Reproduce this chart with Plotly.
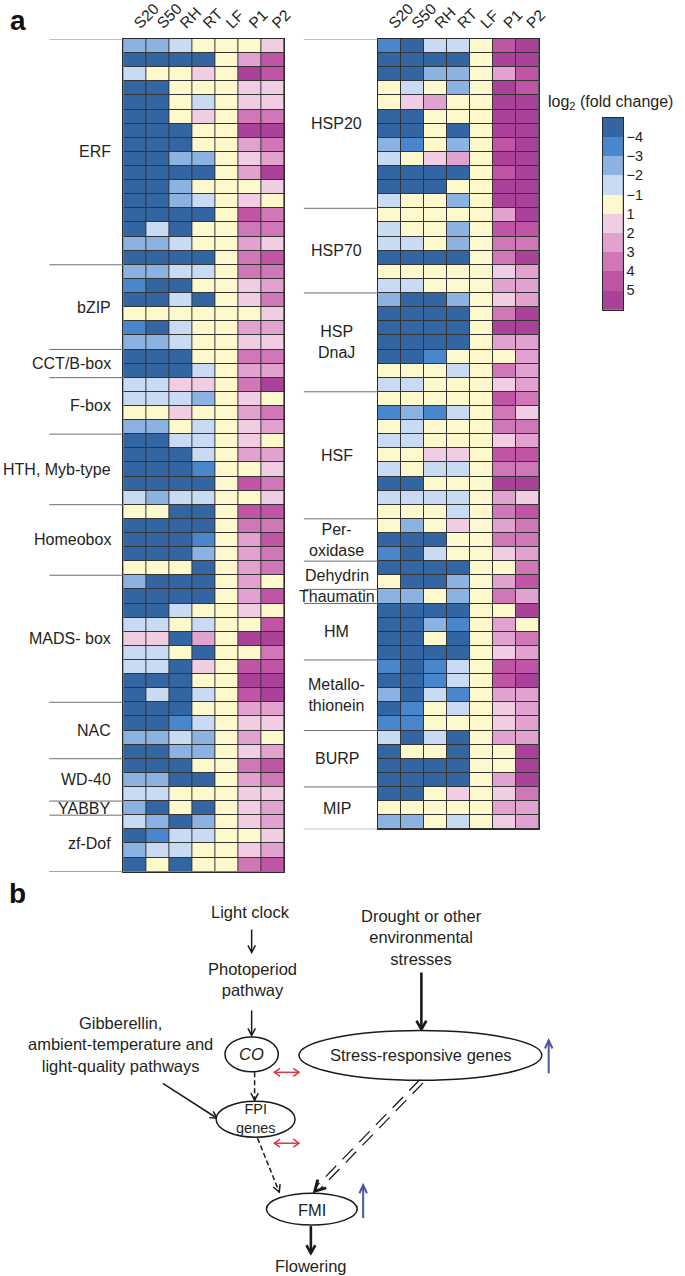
import math
import numpy as np
import plotly.graph_objects as go

W, H = 685, 1276

# ---------------- data ----------------
columns = ["S20", "S50", "RH", "RT", "LF", "P1", "P2"]

tf_groups = ["ERF", "bZIP", "CCT/B-box", "F-box", "HTH, Myb-type", "Homeobox",
             "MADS- box", "NAC", "WD-40", "YABBY", "zf-Dof"]
tf_group_sizes = [16, 6, 2, 4, 5, 5, 9, 4, 3, 1, 4]
tf_log2fc = [
    [-2.5, -2.5, -1.5, 0, 0, 0, 1.5],
    [-4.5, -4.5, -4.5, -4.5, 0, 2.5, 4.5],
    [-1.5, 0, 0, 1.5, 0, 5.5, 4.5],
    [-4.5, -4.5, 0, 0, 0, 1.5, 1.5],
    [-4.5, -4.5, 0, -1.5, 0, 1.5, 1.5],
    [-4.5, -4.5, 0, 1.5, 0, 3.5, 3.5],
    [-4.5, -4.5, -4.5, 0, 0, 5.5, 5.5],
    [-4.5, -4.5, -4.5, 0, 0, 2.5, 3.5],
    [-4.5, -4.5, -2.5, -2.5, 0, 1.5, 2.5],
    [-4.5, -4.5, -4.5, -4.5, 0, 2.5, 5.5],
    [-4.5, -4.5, -2.5, 0, 0, 0, 1.5],
    [-4.5, -4.5, -2.5, -1.5, 0, 1.5, 0],
    [-4.5, -4.5, -4.5, -4.5, 0, 4.5, 3.5],
    [-4.5, -1.5, -4.5, 0, 0, 3.5, 3.5],
    [-2.5, -2.5, -1.5, 0, 0, 2.5, 1.5],
    [-4.5, -4.5, -4.5, -4.5, 0, 3.5, 4.5],
    # bZIP
    [-2.5, -2.5, -1.5, -1.5, 0, 3.5, 3.5],
    [-3.5, -4.5, -4.5, 0, 0, 1.5, 2.5],
    [-4.5, -4.5, -1.5, -4.5, 0, 1.5, 3.5],
    [0, 0, 0, 0, 0, 0, 1.5],
    [-3.5, -4.5, -1.5, 0, 0, 2.5, 2.5],
    [-2.5, -2.5, -1.5, 0, 0, 1.5, 1.5],
    # CCT/B-box
    [-4.5, -4.5, -4.5, 0, 0, 3.5, 3.5],
    [-4.5, -4.5, -4.5, -1.5, 0, 2.5, 2.5],
    # F-box
    [-1.5, -1.5, 1.5, 1.5, 0, 3.5, 5.5],
    [-1.5, -1.5, -1.5, -2.5, 0, 1.5, 0],
    [0, 0, 1.5, 0, 0, 2.5, 3.5],
    [-2.5, -2.5, 0, -1.5, 0, 1.5, 2.5],
    # HTH, Myb-type
    [-4.5, -4.5, -1.5, -1.5, 0, 1.5, 0],
    [-4.5, -4.5, -4.5, -1.5, 0, 2.5, 2.5],
    [-4.5, -4.5, -4.5, -3.5, 0, 0, 1.5],
    [-4.5, -4.5, -4.5, -4.5, 0, 4.5, 3.5],
    [-1.5, -2.5, -1.5, -1.5, 0, 0, 1.5],
    # Homeobox
    [0, 0, -4.5, -4.5, 0, 4.5, 4.5],
    [-4.5, -4.5, -4.5, -4.5, 0, 3.5, 3.5],
    [-4.5, -4.5, -4.5, -3.5, 0, 2.5, 4.5],
    [-4.5, -4.5, -4.5, -2.5, 0, 2.5, 3.5],
    [0, 0, 0, -4.5, 0, 2.5, 3.5],
    # MADS- box
    [-2.5, -4.5, -4.5, -4.5, 0, 2.5, 0],
    [-4.5, -4.5, -4.5, -4.5, 0, 2.5, 4.5],
    [-4.5, -4.5, -1.5, 0, 0, 1.5, 0],
    [-1.5, -1.5, 0, -1.5, 0, 0, 4.5],
    [1.5, 1.5, -4.5, 2.5, 0, 5.5, 5.5],
    [-1.5, -1.5, 0, -4.5, 0, 0, 3.5],
    [-1.5, -1.5, -4.5, 1.5, 0, 4.5, 4.5],
    [-4.5, -4.5, -4.5, 0, 0, 5.5, 5.5],
    [-4.5, -1.5, -4.5, -1.5, 0, 4.5, 5.5],
    # NAC
    [-4.5, -4.5, -4.5, 0, 0, 2.5, 2.5],
    [-4.5, -4.5, -3.5, -1.5, 0, 1.5, 1.5],
    [-2.5, -2.5, -1.5, -2.5, 0, 2.5, 0],
    [-4.5, -4.5, -2.5, -2.5, 0, 1.5, 2.5],
    # WD-40
    [-4.5, -4.5, -4.5, 0, 0, 3.5, 4.5],
    [-2.5, -2.5, -4.5, -4.5, 0, 2.5, 3.5],
    [-1.5, -1.5, 0, 0, 0, 1.5, 1.5],
    # YABBY
    [-2.5, -4.5, 0, -4.5, 0, 1.5, 2.5],
    # zf-Dof
    [-1.5, -2.5, -4.5, -2.5, 0, 1.5, 2.5],
    [-4.5, -3.5, -1.5, -1.5, 0, 0, 1.5],
    [-2.5, -1.5, -1.5, 0, 0, 1.5, 2.5],
    [-4.5, 0, -4.5, 0, 0, 3.5, 4.5],
]

stress_groups = ["HSP20", "HSP70", "HSP<br>DnaJ", "HSF", "Per-<br>oxidase", "Dehydrin",
                 "Thaumatin", "HM", "Metallo-<br>thionein", "BURP", "MIP"]
stress_group_sizes = [12, 6, 7, 9, 3, 2, 1, 4, 5, 4, 3]
stress_log2fc = [
    # HSP20
    [-3.5, -4.5, -1.5, -1.5, 0, 4.5, 5.5],
    [-4.5, -4.5, -4.5, -4.5, 0, 5.5, 5.5],
    [-4.5, -4.5, -2.5, -2.5, 0, 2.5, 4.5],
    [0, -1.5, 0, -2.5, 0, 5.5, 4.5],
    [0, 1.5, 2.5, 0, 0, 5.5, 5.5],
    [-4.5, -4.5, 0, 0, 0, 5.5, 5.5],
    [-4.5, -4.5, 0, -4.5, 0, 5.5, 5.5],
    [-2.5, -3.5, 0, -2.5, 0, 4.5, 5.5],
    [-1.5, 0, 1.5, 2.5, 0, 5.5, 5.5],
    [-4.5, -4.5, -4.5, -4.5, 0, 4.5, 5.5],
    [-4.5, -4.5, -4.5, 0, 0, 5.5, 5.5],
    [-1.5, 0, 0, -2.5, 0, 5.5, 5.5],
    # HSP70
    [0, 0, 0, 0, 0, 2.5, 5.5],
    [-1.5, 0, 0, -2.5, 0, 4.5, 4.5],
    [-1.5, -1.5, 0, -2.5, 0, 3.5, 3.5],
    [-4.5, -4.5, -4.5, -4.5, 0, 3.5, 5.5],
    [0, 0, 0, 0, 0, 1.5, 2.5],
    [-1.5, -1.5, 0, 0, 0, 2.5, 2.5],
    # HSP DnaJ
    [-2.5, -4.5, -4.5, -2.5, 0, 1.5, 2.5],
    [-4.5, -4.5, -4.5, -4.5, 0, 3.5, 5.5],
    [-4.5, -4.5, -4.5, -4.5, 0, 5.5, 5.5],
    [-4.5, -4.5, -4.5, -4.5, 0, 2.5, 2.5],
    [-4.5, -4.5, -3.5, 0, 0, 0, 2.5],
    [0, 0, 0, -1.5, 0, 3.5, 2.5],
    [-1.5, -1.5, 0, 0, 0, 1.5, 2.5],
    # HSF
    [0, 0, 0, 0, 0, 4.5, 3.5],
    [-3.5, -2.5, -3.5, -1.5, 0, 3.5, 1.5],
    [0, -1.5, 0, 0, 0, 3.5, 3.5],
    [-1.5, -1.5, 0, 0, 0, 1.5, 2.5],
    [0, 0, 1.5, 1.5, 0, 4.5, 4.5],
    [-1.5, 0, -1.5, -1.5, 0, 3.5, 3.5],
    [-4.5, -4.5, 0, 0, 0, 5.5, 5.5],
    [-1.5, -1.5, -1.5, -1.5, 0, 2.5, 1.5],
    [0, 0, 0, -1.5, 0, 3.5, 4.5],
    # Peroxidase
    [0, -2.5, 0, 1.5, 0, 2.5, 3.5],
    [-4.5, -4.5, -4.5, 0, 0, 3.5, 3.5],
    [-3.5, -4.5, -1.5, 0, 0, 1.5, 2.5],
    # Dehydrin
    [-4.5, -4.5, -4.5, -4.5, 0, 0, 3.5],
    [0, -4.5, -4.5, -2.5, 0, 2.5, 4.5],
    # Thaumatin
    [-2.5, -2.5, 0, -2.5, 0, 3.5, 2.5],
    # HM
    [-4.5, -4.5, -4.5, -4.5, 0, 0, 5.5],
    [-4.5, -4.5, -2.5, -3.5, 0, 2.5, 0],
    [-4.5, -4.5, 0, -4.5, 0, 2.5, 3.5],
    [-4.5, -4.5, -4.5, -4.5, 0, 1.5, 2.5],
    # Metallothionein
    [-3.5, -4.5, -3.5, -1.5, 0, 4.5, 4.5],
    [-4.5, -4.5, -3.5, -1.5, 0, 4.5, 5.5],
    [-2.5, -4.5, -1.5, -3.5, 0, 2.5, 2.5],
    [-4.5, -3.5, 0, -1.5, 0, 1.5, 2.5],
    [-3.5, -3.5, 0, 0, 0, 1.5, 2.5],
    # BURP
    [-1.5, -4.5, -1.5, -4.5, 0, 2.5, 2.5],
    [-4.5, 0, 0, -4.5, 0, 0, 5.5],
    [-4.5, -4.5, -4.5, -4.5, 0, 0, 5.5],
    [-4.5, -4.5, -4.5, -4.5, 0, 2.5, 5.5],
    # MIP
    [-4.5, -4.5, 0, 1.5, 0, 1.5, 3.5],
    [0, 0, 0, 0, 0, 2.5, 2.5],
    [-2.5, -2.5, 0, -1.5, 0, 1.5, 2.5],
]

legend_values = [-4.5, -3.5, -2.5, -1.5, 0, 1.5, 2.5, 3.5, 4.5, 5.5]
legend_ticktext = ["\u22124", "\u22123", "\u22122", "\u22121", "1", "2", "3", "4", "5"]
bin_edges = [-4, -3, -2, -1, 1, 2, 3, 4, 5]

# ---------------- style ----------------
palette = ["#3365a3", "#4a86cc", "#8cb2e1", "#c8dbf2", "#fdf9cd",
           "#f1cde4", "#e1a2cf", "#d077b7", "#c055a6", "#a94298"]
FONT = "Liberation Sans, Arial, Helvetica, sans-serif"
TXT = "#231f20"

colorscale = []
for i, c in enumerate(palette):
    colorscale.append([i / len(palette), c])
    colorscale.append([(i + 1) / len(palette), c])


def to_bins(vals):
    return np.digitize(np.asarray(vals, dtype=float), bin_edges)


def px(x):
    return x / W


def py(y):
    return 1 - y / H


TOP = 37
ROW_H = (871 - 37) / len(tf_log2fc)

fig = go.Figure()

common = dict(zmin=-0.5, zmax=len(palette) - 0.5, colorscale=colorscale,
              showscale=False, hoverinfo="skip")

fig.add_trace(go.Heatmap(z=to_bins(tf_log2fc), x=columns, y=list(range(len(tf_log2fc))),
                         xgap=1, ygap=1, xaxis="x", yaxis="y", **common))
fig.add_trace(go.Heatmap(z=to_bins(stress_log2fc), x=columns, y=list(range(len(stress_log2fc))),
                         xgap=1, ygap=1, xaxis="x2", yaxis="y2", **common))
fig.add_trace(go.Heatmap(z=to_bins([[v] for v in legend_values]), x=[0],
                         y=list(range(len(legend_values))),
                         xaxis="x3", yaxis="y3", **common))

n1, n2 = len(tf_log2fc), len(stress_log2fc)
bot1 = TOP + n1 * ROW_H
bot2 = TOP + n2 * ROW_H

xcommon = dict(side="top", tickangle=-45, showgrid=False, zeroline=False, showline=True,
               mirror=True, linecolor="#2a2a2a", linewidth=1, ticks="",
               tickfont=dict(size=15.5, color=TXT, family=FONT))
ycommon = dict(showgrid=False, zeroline=False, showline=True, mirror=True,
               linecolor="#2a2a2a", linewidth=1, showticklabels=False, ticks="")

fig.update_layout(
    width=W, height=H,
    margin=dict(l=0, r=0, t=0, b=0),
    paper_bgcolor="white", plot_bgcolor="#333333",
    font=dict(family=FONT, color=TXT),
    showlegend=False,
    xaxis=dict(domain=[px(125), px(288)], anchor="y", **xcommon),
    yaxis=dict(domain=[py(bot1), py(TOP)], anchor="x", range=[n1 - 0.5, -0.5], **ycommon),
    xaxis2=dict(domain=[px(383), px(546)], anchor="y2", **xcommon),
    yaxis2=dict(domain=[py(bot2), py(TOP)], anchor="x2", range=[n2 - 0.5, -0.5], **ycommon),
    xaxis3=dict(domain=[px(611), px(631)], anchor="y3", showgrid=False, zeroline=False,
                showline=True, mirror=True, linecolor="#2a2a2a", showticklabels=False,
                ticks=""),
    yaxis3=dict(domain=[py(308), py(116)], anchor="x3", range=[len(legend_values) - 0.5, -0.5],
                side="right", showgrid=False, zeroline=False, showline=True, mirror=True,
                linecolor="#2a2a2a", ticks="",
                tickvals=[i + 0.5 for i in range(len(legend_ticktext))],
                ticktext=legend_ticktext,
                tickfont=dict(size=14.5, color=TXT, family=FONT)),
)

shapes = []
annotations = []


# group separators and labels
def add_groups(names, sizes, yref, x0, x1, label_x, anchor):
    cum = np.concatenate([[0], np.cumsum(sizes)])
    for c in cum:
        shapes.append(dict(type="line", xref="paper", yref=yref, x0=px(x0), x1=px(x1),
                           y0=c - 0.5, y1=c - 0.5, line=dict(color="#6f6f6f", width=1)))
    for name, s, c in zip(names, sizes, cum[:-1]):
        annotations.append(dict(xref="paper", yref=yref, x=px(label_x), y=c + s / 2 - 0.5,
                                xanchor=anchor, yanchor="middle", text=name, showarrow=False,
                                font=dict(size=16, color=TXT, family=FONT)))


add_groups(tf_groups, tf_group_sizes, "y", 50, 125, 115, "right")
add_groups(stress_groups, stress_group_sizes, "y2", 308, 383, 341, "center")

# colour legend title
annotations.append(dict(xref="paper", yref="paper", x=px(684), y=py(101), xanchor="right",
                        yanchor="middle", text="log<sub>2</sub> (fold change)", showarrow=False,
                        font=dict(size=16, color=TXT, family=FONT)))

# panel letters
for letter, (lx, ly) in {"a": (18, 19), "b": (18, 893)}.items():
    annotations.append(dict(xref="paper", yref="paper", x=px(lx), y=py(ly), xanchor="center",
                            yanchor="middle", text=f"<b>{letter}</b>", showarrow=False,
                            font=dict(size=28, color="#111", family=FONT)))

# ---------------- panel b diagram ----------------
BLACK = "#1a1a1a"
RED = "#d8383f"
BLUE = "#4a55a6"


def seg(x0, y0, x1, y1, color=BLACK, width=1.5, dash=None):
    ln = dict(color=color, width=width)
    if dash:
        ln["dash"] = dash
    shapes.append(dict(type="line", xref="paper", yref="paper", x0=px(x0), y0=py(y0),
                       x1=px(x1), y1=py(y1), line=ln))


def vhead(xa, ya, xb, yb, color=BLACK, width=1.5, L=8, ang=28):
    d = math.hypot(xa - xb, ya - yb)
    ux, uy = (xa - xb) / d, (ya - yb) / d
    pts = []
    for s in (1, -1):
        a = math.radians(ang) * s
        rx = ux * math.cos(a) - uy * math.sin(a)
        ry = ux * math.sin(a) + uy * math.cos(a)
        pts.append((xb + L * rx, yb + L * ry))
    path = (f"M {px(pts[0][0])},{py(pts[0][1])} L {px(xb)},{py(yb)} "
            f"L {px(pts[1][0])},{py(pts[1][1])}")
    shapes.append(dict(type="path", xref="paper", yref="paper", path=path,
                       line=dict(color=color, width=width), fillcolor="rgba(0,0,0,0)"))


def arrow(x0, y0, x1, y1, color=BLACK, width=1.5, dash=None, L=8, ang=28, both=False):
    seg(x0, y0, x1, y1, color, width, dash)
    vhead(x0, y0, x1, y1, color, width, L, ang)
    if both:
        vhead(x1, y1, x0, y0, color, width, L, ang)


def ellipse(cx, cy, rx, ry):
    shapes.append(dict(type="circle", xref="paper", yref="paper", x0=px(cx - rx),
                       x1=px(cx + rx), y0=py(cy + ry), y1=py(cy - ry),
                       line=dict(color=BLACK, width=1.5), fillcolor="white"))


def text(x, y, s, size=16.5):
    annotations.append(dict(xref="paper", yref="paper", x=px(x), y=py(y), xanchor="center",
                            yanchor="middle", text=s, showarrow=False,
                            font=dict(size=size, color=TXT, family=FONT)))


text(254, 911, "Light clock")
arrow(255, 929, 255, 952)
text(256, 979, "Photoperiod<br>pathway")
arrow(255, 1010, 255, 1035)
ellipse(255, 1054, 27, 17.5)
text(255, 1054, "<i>CO</i>")

text(122, 1044, "Gibberellin,<br>ambient-temperature and<br>light-quality pathways")
arrow(165, 1083, 220, 1118)

text(427, 937, "Drought or other<br>environmental<br>stresses")
arrow(427, 972, 427, 1029, width=2.6, L=10, ang=30)
ellipse(426, 1055, 123, 25)
text(427, 1055, "Stress-responsive genes")
arrow(556, 1073, 556, 1040, color=BLUE, width=2, L=9, ang=25)

arrow(278, 1072, 303, 1072, color=RED, width=1.5, L=7, ang=35, both=True)
arrow(258, 1072, 258, 1100, dash="5px,3px")
ellipse(259, 1119, 40, 18)
text(259, 1118, "FPI<br>genes", size=14.5)
arrow(278, 1143, 303, 1143, color=RED, width=1.5, L=7, ang=35, both=True)
arrow(261, 1138, 283, 1192, dash="5px,3px")

# double dashed line from stress genes to FMI
sx0, sy0, sx1, sy1 = 427, 1081, 321, 1189
dlen = math.hypot(sx1 - sx0, sy1 - sy0)
nx, ny = -(sy1 - sy0) / dlen, (sx1 - sx0) / dlen
for s in (-2.3, 2.3):
    seg(sx0 + nx * s, sy0 + ny * s, sx1 + nx * s, sy1 + ny * s, width=1.3, dash="15px,9px")
vhead(sx0, sy0, sx1 - 2, sy1 + 2, width=3, L=12, ang=30)

ellipse(316, 1209, 46, 16)
text(316, 1210, "FMI")
arrow(368, 1218, 368, 1185, color=BLUE, width=2, L=9, ang=25)
arrow(315, 1226, 315, 1253, width=2.6, L=9, ang=30)
text(315, 1266, "Flowering")

fig.update_layout(shapes=shapes, annotations=annotations)

fig.write_html("out.html", config={"displayModeBar": False},
               post_script="document.body.style.margin='0';")
